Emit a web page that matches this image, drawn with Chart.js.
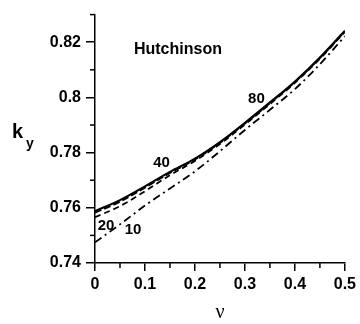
<!DOCTYPE html>
<html>
<head>
<meta charset="utf-8">
<script src="https://cdn.jsdelivr.net/npm/chart.js@4/dist/chart.umd.min.js"></script>
<style>
  body { margin: 0; background: #fff; }
  #wrap { width: 360px; height: 324px; }
</style>
</head>
<body>
<div id="wrap"><canvas id="chart"></canvas></div>
<script>
// Poisson ratio values (x axis)
const nu = [0, 0.05, 0.1, 0.15, 0.2, 0.25, 0.3, 0.35, 0.4, 0.45, 0.5];

// k_y curves, one per label
const ky80 = [0.7588, 0.7628, 0.7678, 0.7730, 0.7778, 0.7838, 0.7908, 0.7982, 0.8058, 0.8145, 0.8242];
const ky40 = [0.7582, 0.7622, 0.7673, 0.7726, 0.7775, 0.7835, 0.7905, 0.7979, 0.8055, 0.8142, 0.8239];
const ky20 = [0.7566, 0.7606, 0.7660, 0.7718, 0.7770, 0.7831, 0.7902, 0.7976, 0.8053, 0.8140, 0.8237];
const ky10 = [0.7475, 0.7540, 0.7608, 0.7670, 0.7732, 0.7805, 0.7882, 0.7955, 0.8030, 0.8120, 0.8222];

// tick values
const xTicks = [0, 0.1, 0.2, 0.3, 0.4, 0.5];
const xMinor = [0.05, 0.15, 0.25, 0.35, 0.45];
const yTicks = [0.74, 0.76, 0.78, 0.8, 0.82];
const yMinor = [0.75, 0.77, 0.79, 0.81, 0.83];

// curve labels and where they sit (data units)
const curveLabels = ['80', '40', '20', '10'];
const labelNu = [0.323, 0.133, 0.022, 0.076];
const labelKy = [0.7995, 0.7762, 0.7535, 0.7519];

const noteText = 'Hutchinson';
const noteNu = 0.166;
const noteKy = 0.8174;

function line(data, dash, width) {
    return {
        data: nu.map((v, i) => ({ x: v, y: data[i] })),
        borderColor: '#000',
        borderWidth: width,
        borderDash: dash,
        pointRadius: 0,
        fill: false,
        cubicInterpolationMode: 'monotone'
    };
}

const extras = {
    id: 'extras',
    afterDraw(chart) {
        const ctx = chart.ctx;
        const x = chart.scales.x;
        const y = chart.scales.y;
        ctx.save();
        ctx.strokeStyle = '#000';
        ctx.lineWidth = 1.5;

        // minor ticks
        xMinor.forEach(v => {
            const px = x.getPixelForValue(v);
            ctx.beginPath();
            ctx.moveTo(px, y.bottom);
            ctx.lineTo(px, y.bottom + 5);
            ctx.stroke();
        });
        yMinor.forEach(v => {
            const py = y.getPixelForValue(v);
            ctx.beginPath();
            ctx.moveTo(x.left, py);
            ctx.lineTo(x.left - 5, py);
            ctx.stroke();
        });

        ctx.fillStyle = '#000';
        ctx.textAlign = 'center';
        ctx.textBaseline = 'middle';

        // curve labels
        ctx.font = 'bold 15px "Liberation Sans", Arial, sans-serif';
        curveLabels.forEach((t, i) => {
            ctx.fillText(t, x.getPixelForValue(labelNu[i]), y.getPixelForValue(labelKy[i]));
        });

        // Hutchinson note
        ctx.font = 'bold 16px "Liberation Sans", Arial, sans-serif';
        ctx.fillText(noteText, x.getPixelForValue(noteNu), y.getPixelForValue(noteKy));

        // x axis title
        ctx.font = '20px "Liberation Serif", "Times New Roman", serif';
        ctx.fillText('ν', (x.left + x.right) / 2, 313);

        // y axis title k_y
        ctx.textAlign = 'left';
        ctx.textBaseline = 'alphabetic';
        ctx.font = 'bold 20px "Liberation Sans", Arial, sans-serif';
        ctx.fillText('k', 12, 138);
        ctx.font = 'bold 14px "Liberation Sans", Arial, sans-serif';
        ctx.fillText('y', 26, 148);
        ctx.restore();
    }
};

new Chart(document.getElementById('chart'), {
    type: 'line',
    data: {
        datasets: [
            line(ky80, [], 2),
            line(ky40, [7, 3], 1.8),
            line(ky20, [6, 4], 1.8),
            line(ky10, [8, 4, 2, 4], 1.8)
        ]
    },
    options: {
        responsive: true,
        maintainAspectRatio: false,
        animation: false,
        layout: { padding: { top: 8, right: 12, left: 0, bottom: 0 } },
        plugins: {
            legend: { display: false },
            tooltip: { enabled: false }
        },
        scales: {
            x: {
                type: 'linear',
                min: 0,
                max: 0.5,
                afterFit: s => { s.height = 61; },
                afterBuildTicks: s => { s.ticks = xTicks.map(v => ({ value: v })); },
                border: { color: '#000', width: 1.5 },
                grid: { drawOnChartArea: false, drawTicks: true, tickLength: 8, color: '#000', lineWidth: 1.5 },
                ticks: {
                    color: '#000',
                    padding: 4,
                    maxRotation: 0,
                    font: { family: '"Liberation Sans", Arial, sans-serif', size: 16, weight: 'bold' },
                    callback: v => String(Number(v.toFixed(2)))
                }
            },
            y: {
                type: 'linear',
                min: 0.74,
                max: 0.83,
                afterFit: s => { s.width = 95; },
                afterBuildTicks: s => { s.ticks = yTicks.map(v => ({ value: v })); },
                border: { color: '#000', width: 1.5 },
                grid: { drawOnChartArea: false, drawTicks: true, tickLength: 9, color: '#000', lineWidth: 1.5 },
                ticks: {
                    color: '#000',
                    padding: 5,
                    font: { family: '"Liberation Sans", Arial, sans-serif', size: 16, weight: 'bold' },
                    callback: v => String(Number(v.toFixed(2)))
                }
            }
        }
    },
    plugins: [extras]
});
</script>
</body>
</html>
